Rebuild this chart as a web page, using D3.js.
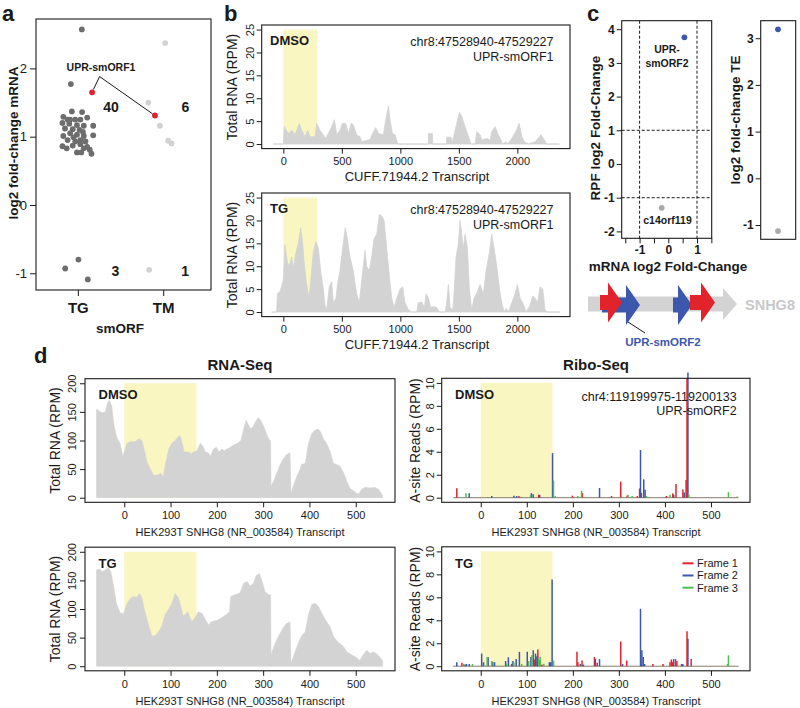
<!DOCTYPE html>
<html><head><meta charset="utf-8">
<script src="https://cdn.jsdelivr.net/npm/d3@7"></script>
<style>
body{margin:0;background:#fff;}
svg{display:block;font-family:"Liberation Sans",Arial,Helvetica,sans-serif;}
</style></head><body>
<svg id="chart" width="800" height="708"></svg>
<script>
// ================= DATA =================
// ---- panel a : smORF mRNA fold change (x = category index with jitter) ----
const aCategories = ["TG", "TM"];
const aYTicks = [-1, 0, 1, 2];
const aTgOther = [[1.047, 2.57], [0.918, 1.77]];
const aTgCluster = [[0.93,1.37],[1.05,1.36],[0.83,1.29],[0.88,1.25],[0.97,1.25],[1.11,1.28],[1.03,1.25],[0.82,1.20],[0.90,1.19],[0.99,1.17],[1.07,1.16],[1.18,1.16],[0.85,1.12],[0.94,1.11],[1.02,1.10],[1.06,1.07],[0.91,1.05],[0.83,1.01],[0.99,1.03],[1.07,1.01],[1.18,1.02],[0.95,0.99],[0.88,0.95],[1.03,0.95],[1.09,0.93],[0.82,0.86],[0.94,0.87],[1.03,0.89],[1.11,0.85],[1.14,0.81],[0.99,0.77],[1.04,0.77],[1.16,0.75],[0.87,0.83],[1.07,0.83],[0.97,0.93],[0.91,1.25]];
const aTgDown = [[0.852, -0.93], [1.007, -0.80], [1.117, -1.09]];
const aTmUp = [[2.023, 2.37], [1.825, 1.50], [1.961, 1.16], [2.058, 0.94], [2.098, 0.90]];
const aTmDown = [[1.836, -0.95]];
const aHighlight = [[1.167, 1.65], [1.903, 1.31]]; // UPR-smORF1 in TG and TM
const aCounts = [{x:1.389, y:1.435, t:"40"}, {x:2.259, y:1.435, t:"6"}, {x:1.439, y:-0.966, t:"3"}, {x:2.257, y:-0.966, t:"1"}];

// ---- panel b : CUFF.71944.2 coverage [position, RPM] ----
const bXTicks = [0, 500, 1000, 1500, 2000];
const bYTicks = [0, 5, 10, 15, 20, 25];
const bSmorf = [0, 287];
const bDmsoCoverage = [[-85,0],[0,0],[8,3.9],[25,3.0],[43,2.3],[71,3],[100,2],[137,4.5],[157,3],[185,1.6],[208,3],[228,1.6],[271,1.6],[285,4.5],[313,3],[342,2],[362,1.2],[413,3.8],[436,5.3],[456,2],[484,3],[504,4.5],[533,4.5],[556,2.3],[579,4.5],[598,4.2],[627,2],[655,1.6],[670,0.5],[741,1],[770,2.7],[789,3.6],[812,2.3],[855,2],[875,5.3],[898,8.3],[912,5.3],[932,2.3],[955,2],[978,0],[1238,0],[1240,2.3],[1274,2.3],[1277,0],[1394,0],[1397,1.5],[1434,1.5],[1439,0],[1462,2.3],[1482,4.5],[1505,6.9],[1525,6],[1553,3.8],[1576,2],[1605,0],[1639,0],[1653,2.7],[1682,2],[1696,0.9],[1739,1.2],[1767,0.9],[1781,2.7],[1810,3.8],[1833,2.3],[1861,0.9],[1872,0],[1901,0.5],[1918,0],[1952,1.2],[1986,2.7],[2015,4.5],[2038,1.6],[2061,0.5],[2095,0],[2152,0.5],[2175,1.2],[2203,2],[2223,1.2],[2252,0],[2360,0]];
const bTgCoverage = [[-100,0],[-57,0],[-51,4],[-28,4.5],[0,7],[14,14.7],[34,11],[51,10],[71,12],[85,9.5],[108,13],[128,15],[148,18.4],[165,15],[177,11],[194,7],[214,3.5],[228,5],[256,13],[279,15.4],[299,14],[319,9],[342,5],[356,1.5],[370,0.5],[393,5.5],[413,6.6],[427,2],[450,3],[465,6.5],[484,9],[507,14],[530,18.4],[547,16],[570,12],[598,9],[627,4],[650,2],[670,7],[698,13.5],[712,10],[735,9],[755,12],[775,16],[798,17],[821,21.3],[841,21],[861,20],[883,14],[906,8],[926,3],[946,1],[969,3],[997,5],[1020,5.5],[1040,2],[1069,0.5],[1097,0],[1140,0],[1154,2],[1183,2.2],[1206,1],[1220,4],[1240,3],[1260,1],[1283,1.2],[1311,1],[1334,0],[1382,0],[1396,2],[1411,6],[1425,1],[1448,0.5],[1459,4],[1476,12],[1496,15],[1510,20],[1525,17],[1539,14],[1553,17],[1573,14],[1590,5],[1610,0.5],[1630,3],[1659,4.5],[1681,6],[1710,4],[1733,9],[1761,13],[1781,17],[1801,14],[1824,10],[1847,5],[1867,2],[1887,0],[1904,0.8],[1924,0],[1952,2],[1981,4],[2001,6],[2024,3],[2046,2],[2075,0],[2109,1.5],[2132,3.5],[2152,3],[2172,2],[2194,5.5],[2217,5],[2237,0.5],[2252,0],[2365,0]];

// ---- panel c ----
const cXTicks = [-1.5, -1, -0.5, 0, 0.5, 1, 1.5];
const cYTicks = [-2, -1, 0, 1, 2, 3, 4];
const cGenes = ["UPR-smORF2", "c14orf119"];
const cMrnaFC = [0.56, -0.23];
const cRpfFC = [3.76, -1.30];
const cTeFC = [3.19, -1.13];
const cTeTicks = [-1, 0, 1, 2, 3];
// SNHG8 schematic (transcript units): ORFs in frame 1 (red) and frame 2 (blue)
const snhg8Length = 149;
const snhg8Orfs = [{frame:2, start:14, end:52}, {frame:1, start:12, end:34}, {frame:2, start:85, end:104}, {frame:1, start:102, end:127}];

// ---- panel d : SNHG8 RNA-seq coverage [position, RPM] ----
const dXTicks = [0, 100, 200, 300, 400, 500];
const dRnaTicks = [0, 50, 100, 150, 200];
const dRiboTicks = [0, 2, 4, 6, 8, 10];
const dSmorf = [0, 156];
const rnaDmso = [[-60,155],[-55,152],[-48,148],[-41,150],[-36,166],[-32,170],[-27,160],[-22,125],[-16,105],[-9,95],[-3,72],[0,80],[6,95],[13,98],[24,98],[31,103],[38,100],[43,85],[49,62],[55,52],[60,45],[63,39],[74,40],[78,43],[85,37],[88,55],[96,85],[103,95],[110,100],[117,107],[121,108],[127,90],[129,80],[139,80],[144,77],[150,80],[157,82],[164,95],[170,90],[175,80],[182,78],[186,72],[193,85],[199,88],[204,80],[211,85],[216,82],[222,85],[229,88],[236,92],[245,95],[252,100],[258,120],[263,135],[268,128],[273,120],[279,125],[285,135],[290,140],[295,135],[301,125],[308,110],[314,100],[316,100],[317,20],[322,28],[329,42],[337,58],[344,68],[350,75],[357,78],[358,78],[360,8],[365,20],[373,38],[380,50],[383,58],[391,60],[398,95],[405,112],[412,118],[419,120],[424,115],[430,103],[437,95],[445,80],[452,60],[459,58],[466,55],[473,45],[481,28],[488,16],[495,12],[502,8],[506,6],[513,15],[520,18],[531,17],[542,18],[549,15],[553,10],[558,4]];
const rnaTg = [[-60,168],[-53,170],[-48,165],[-41,168],[-34,172],[-29,165],[-23,140],[-17,110],[-12,100],[-9,93],[-1,92],[2,100],[6,110],[13,118],[20,122],[27,120],[33,127],[38,120],[43,100],[49,82],[55,65],[60,52],[67,54],[74,60],[81,70],[88,90],[96,100],[103,110],[110,127],[117,120],[122,105],[127,88],[132,90],[137,95],[142,85],[146,78],[153,85],[160,95],[168,92],[175,82],[182,72],[189,78],[200,80],[211,85],[220,90],[227,95],[230,122],[240,125],[250,128],[258,145],[265,148],[272,140],[279,145],[285,158],[292,162],[297,150],[304,130],[312,125],[316,125],[317,20],[326,40],[335,55],[344,68],[351,75],[358,77],[360,5],[369,25],[376,40],[383,53],[391,60],[398,90],[405,108],[412,110],[419,105],[427,92],[434,82],[445,68],[452,52],[462,42],[473,35],[481,25],[491,20],[502,15],[509,10],[516,20],[524,28],[531,22],[538,25],[545,22],[553,15],[558,10]];
// ---- panel d : Ribo-seq A-site reads [position, RPM] per frame ----
const riboRange = [-60, 560];
const riboDmsoF1 = [[-52,0.82],[83,0.15],[126,0.25],[199,0.18],[221,0.4],[284,0.15],[304,1.4],[318,0.2],[340,0.15],[345,0.8],[349,0.4],[403,0.15],[417,0.38],[424,1.2],[439,0.72],[446,1.55],[448,10.4]];
const riboDmsoF2 = [[-25,0.38],[24,0.15],[72,0.18],[78,0.15],[110,0.4],[114,0.3],[128,0.25],[156,3.88],[258,0.85],[347,4.15],[354,1.6],[357,0.7],[419,0.25],[442,0.45],[450,10.9]];
const riboDmsoF3 = [[-32,0.38],[108,0.2],[158,1.5],[162,0.15],[211,0.15],[219,0.6],[320,0.25],[329,0.15],[360,0.15],[411,0.25],[452,0.25],[538,0.48],[557,0.1]];
const riboTgF1 = [[-41,0.3],[67,0.2],[117,0.58],[124,1.45],[128,0.5],[133,0.15],[209,1.27],[211,0.35],[220,0.5],[247,0.8],[253,0.3],[304,2.15],[317,0.5],[348,0.2],[374,0.2],[396,0.2],[411,0.35],[414,0.58],[417,0.35],[423,0.62],[426,0.45],[436,0.2],[448,3.05],[457,0.62]];
const riboTgF2 = [[-52,0.35],[-34,0.15],[-31,0.2],[-25,0.2],[2,1.1],[6,0.35],[16,0.78],[26,0.35],[30,0.35],[54,0.45],[60,0.78],[70,0.45],[77,0.62],[84,1.25],[101,1.25],[109,0.8],[114,1.4],[119,1.1],[122,0.87],[149,0.35],[152,0.35],[155,7.55],[216,0.2],[223,0.15],[249,0.62],[258,0.62],[308,0.2],[347,5.0],[350,1.4],[353,0.8],[356,0.2],[419,0.62],[439,0.2],[450,2.4]];
const riboTgF3 = [[-37,0.2],[-18,0.2],[14,0.8],[24,0.45],[56,0.2],[72,0.3],[89,0.2],[104,0.45],[111,0.95],[126,0.62],[129,0.8],[137,0.22],[158,0.5],[536,0.2],[538,0.95]];
const frameNames = ["Frame 1", "Frame 2", "Frame 3"];

// ================= STYLE =================
const FONT = '"Liberation Sans", Arial, Helvetica, sans-serif';
const INK = "#1a1a1a";
const GRAYFILL = "#d3d3d3";
const YELLOW = "#f9f6c2";
const RED = "#e2232b", BLUE = "#3b58ad", GREEN = "#4fbd4f";
const DARKPT = "#6d6d6d", LIGHTPT = "#d2d2d2";
const frameColors = [RED, BLUE, GREEN];
const plain = d => String(d);

const svg = d3.select("#chart");

function txt(x, y, s, size, opt = {}) {
  const t = svg.append("text").attr("x", x).attr("y", y).text(s)
    .attr("font-size", size).attr("font-family", FONT)
    .attr("fill", opt.fill || INK)
    .attr("font-weight", opt.bold ? "bold" : "normal")
    .attr("text-anchor", opt.anchor || "start");
  if (opt.rotate) t.attr("transform", `rotate(-90,${x},${y})`).attr("dy", "0.35em");
  return t;
}
function frame(x0, y0, x1, y1) {
  svg.append("rect").attr("x", x0).attr("y", y0).attr("width", x1 - x0).attr("height", y1 - y0)
    .attr("fill", "none").attr("stroke", INK).attr("stroke-width", 1.1);
}
function styleAxis(a, size, bold) {
  a.select(".domain").remove();
  a.selectAll(".tick line").attr("stroke", INK).attr("stroke-width", 1);
  a.selectAll(".tick text").attr("font-size", size).attr("font-family", FONT)
    .attr("fill", INK).attr("font-weight", bold ? "bold" : "normal");
  return a;
}
function rotateYLabels(a, off) {
  a.selectAll(".tick text").attr("x", null).attr("dy", "0.35em").attr("text-anchor", "middle")
    .attr("transform", `translate(${-off},0) rotate(-90)`);
}

// ================= PANEL LETTERS =================
txt(2, 21, "a", 22, {bold: true});
txt(224, 21, "b", 22, {bold: true});
txt(587, 21, "c", 22, {bold: true});
txt(34, 363, "d", 22, {bold: true});

// ================= PANEL A =================
{
  const x = d3.scaleLinear().domain([0.51, 2.56]).range([36, 211]);
  const y = d3.scaleLinear().domain([-1.245, 2.723]).range([290, 19]);
  const g = svg.append("g");
  const dots = (arr, col) => g.selectAll(null).data(arr).enter().append("circle")
    .attr("cx", d => x(d[0])).attr("cy", d => y(d[1])).attr("r", 2.9).attr("fill", col);
  dots(aTgOther, DARKPT); dots(aTgCluster, DARKPT); dots(aTgDown, DARKPT);
  dots(aTmUp, LIGHTPT); dots(aTmDown, LIGHTPT);
  const jx = x(1.255), jy = y(1.88);
  aHighlight.forEach(d => {
    const px = x(d[0]), py = y(d[1]);
    const dx = px - jx, dy = py - jy, L = Math.hypot(dx, dy);
    g.append("line").attr("x1", jx).attr("y1", jy).attr("x2", px - dx / L * 3).attr("y2", py - dy / L * 3)
      .attr("stroke", INK).attr("stroke-width", 1);
  });
  dots(aHighlight, RED);
  txt(x(1.272), y(2.01) + 3.8, "UPR-smORF1", 10.5, {bold: true, anchor: "middle"});
  aCounts.forEach(c => txt(x(c.x), y(c.y) + 5, c.t, 14, {bold: true, anchor: "middle"}));
  frame(36, 19, 211, 290);
  styleAxis(svg.append("g").attr("transform", "translate(36,0)")
    .call(d3.axisLeft(y).tickValues(aYTicks).tickSize(6).tickPadding(3).tickFormat(plain)), 13, false);
  styleAxis(svg.append("g").attr("transform", "translate(0,290)")
    .call(d3.axisBottom(x).tickValues([1, 2]).tickSize(6).tickPadding(6).tickFormat(d => aCategories[d - 1])), 15, true);
  txt(13, 143, "log2 fold-change mRNA", 13.5, {bold: true, anchor: "middle", rotate: true});
  txt(120, 333, "smORF", 13.5, {bold: true, anchor: "middle"});
}

// ================= PANEL B =================
{
  const x = d3.scaleLinear().domain([-185, 2450]).range([261.7, 570]);
  const panels = [{lab: "DMSO", data: bDmsoCoverage, off: 0}, {lab: "TG", data: bTgCoverage, off: 168}];
  panels.forEach(p => {
    const y = d3.scaleLinear().domain([-1, 26]).range([148.6 + p.off, 25 + p.off]);
    svg.append("rect").attr("x", x(bSmorf[0])).attr("width", x(bSmorf[1]) - x(bSmorf[0]))
      .attr("y", y(25)).attr("height", y(0) - y(25)).attr("fill", YELLOW);
    svg.append("path").datum(p.data)
      .attr("d", d3.area().x(d => x(d[0])).y0(y(0)).y1(d => y(d[1])))
      .attr("fill", GRAYFILL).attr("stroke", GRAYFILL).attr("stroke-width", 0.8);
    frame(261.7, 25 + p.off, 570, 148.6 + p.off);
    const ya = styleAxis(svg.append("g").attr("transform", "translate(261.7,0)")
      .call(d3.axisLeft(y).tickValues(bYTicks).tickSize(5).tickFormat(plain)), 11, false);
    rotateYLabels(ya, 11.5);
    styleAxis(svg.append("g").attr("transform", `translate(0,${148.6 + p.off})`)
      .call(d3.axisBottom(x).tickValues(bXTicks).tickSize(5).tickPadding(4).tickFormat(plain)), 11, false);
    txt(417, 181 + p.off, "CUFF.71944.2 Transcript", 13, {anchor: "middle"});
    txt(232.5, 87 + p.off, "Total RNA (RPM)", 14, {anchor: "middle", rotate: true});
    txt(270, 44.5 + p.off, p.lab, 13, {bold: true});
    txt(553.5, 46 + p.off, "chr8:47528940-47529227", 12.5, {anchor: "end"});
    txt(553.5, 60.5 + p.off, "UPR-smORF1", 12.5, {anchor: "end"});
  });
}

// ================= PANEL C =================
{
  const x = d3.scaleLinear().domain([-1.624, 1.512]).range([621.7, 711.7]);
  const y = d3.scaleLinear().domain([-2.205, 4.252]).range([238.3, 20.7]);
  [-1, 1].forEach(v => {
    svg.append("line").attr("x1", x(v)).attr("x2", x(v)).attr("y1", 20.7).attr("y2", 238.3)
      .attr("stroke", INK).attr("stroke-width", 1).attr("stroke-dasharray", "3,2");
    svg.append("line").attr("y1", y(v)).attr("y2", y(v)).attr("x1", 621.7).attr("x2", 711.7)
      .attr("stroke", INK).attr("stroke-width", 1).attr("stroke-dasharray", "3,2");
  });
  const cols = [BLUE, "#a9a9a9"];
  cGenes.forEach((gname, i) => {
    svg.append("circle").attr("cx", x(cMrnaFC[i])).attr("cy", y(cRpfFC[i])).attr("r", 2.9).attr("fill", cols[i]);
  });
  txt(667, 53, "UPR-", 10.5, {bold: true, anchor: "middle"});
  txt(667, 67, "smORF2", 10.5, {bold: true, anchor: "middle"});
  txt(667.5, 224, "c14orf119", 10.5, {bold: true, anchor: "middle"});
  frame(621.7, 20.7, 711.7, 238.3);
  styleAxis(svg.append("g").attr("transform", "translate(621.7,0)")
    .call(d3.axisLeft(y).tickValues(cYTicks).tickSize(5).tickPadding(2).tickFormat(plain)), 12, true);
  styleAxis(svg.append("g").attr("transform", "translate(0,238.3)")
    .call(d3.axisBottom(x).tickValues(cXTicks).tickSize(5).tickPadding(2)
      .tickFormat(d => Number.isInteger(d) ? String(d) : "")), 12, true);
  txt(595, 128, "RPF log2 Fold-Change", 13.5, {bold: true, anchor: "middle", rotate: true});
  txt(668, 271, "mRNA log2 Fold-Change", 13.5, {bold: true, anchor: "middle"});

  // TE strip
  const ty = d3.scaleLinear().domain([-1.306, 3.375]).range([239.3, 20.7]);
  cGenes.forEach((gname, i) => {
    svg.append("circle").attr("cx", 778).attr("cy", ty(cTeFC[i])).attr("r", 2.9).attr("fill", cols[i]);
  });
  frame(760.7, 20.7, 795.7, 239.3);
  styleAxis(svg.append("g").attr("transform", "translate(760.7,0)")
    .call(d3.axisLeft(ty).tickValues(cTeTicks).tickSize(5).tickPadding(2).tickFormat(plain)), 12, true);
  txt(735, 120, "log2 fold-change TE", 13.5, {bold: true, anchor: "middle", rotate: true});

  // SNHG8 schematic
  const gx = d3.scaleLinear().domain([0, snhg8Length]).range([588, 737]);
  const head = 14;
  const arrow = (s, e, cy, bh, hh) => {
    const b = gx(e) - head;
    return `M${gx(s)},${cy - bh}L${b},${cy - bh}L${b},${cy - hh}L${gx(e)},${cy}L${b},${cy + hh}L${b},${cy + bh}L${gx(s)},${cy + bh}Z`;
  };
  svg.append("path").attr("d", arrow(0, snhg8Length, 304, 7.5, 16)).attr("fill", GRAYFILL);
  snhg8Orfs.forEach(o => {
    const cy = o.frame === 1 ? 302.5 : 305;
    svg.append("path").attr("d", arrow(o.start, o.end, cy, 7.5, 20))
      .attr("fill", o.frame === 1 ? RED : BLUE);
  });
  svg.append("line").attr("x1", 628).attr("y1", 322).attr("x2", 645).attr("y2", 333)
    .attr("stroke", INK).attr("stroke-width", 1);
  txt(663, 346, "UPR-smORF2", 11.5, {bold: true, anchor: "middle", fill: BLUE});
  txt(745, 309.5, "SNHG8", 14.5, {bold: true, fill: "#c8c8c8"});
}

// ================= PANEL D =================
{
  const OFF = 168.5;
  const rx = d3.scaleLinear().domain([-84.8, 584.8]).range([85, 395]);
  const bx = d3.scaleLinear().domain([-84.8, 584.8]).range([441.7, 750]);
  txt(240, 370, "RNA-Seq", 15, {bold: true, anchor: "middle"});
  txt(596, 370, "Ribo-Seq", 15, {bold: true, anchor: "middle"});
  const rows = [
    {lab: "DMSO", rna: rnaDmso, ribo: [riboDmsoF1, riboDmsoF2, riboDmsoF3], off: 0},
    {lab: "TG", rna: rnaTg, ribo: [riboTgF1, riboTgF2, riboTgF3], off: OFF}
  ];
  rows.forEach((r, ri) => {
    const y = d3.scaleLinear().domain([-8, 208]).range([502.3 + r.off, 378.7 + r.off]);
    svg.append("rect").attr("x", rx(dSmorf[0])).attr("width", rx(dSmorf[1]) - rx(dSmorf[0]))
      .attr("y", y(200)).attr("height", y(0) - y(200)).attr("fill", YELLOW);
    svg.append("path").datum(r.rna)
      .attr("d", d3.area().x(d => rx(d[0])).y0(y(0)).y1(d => y(d[1])))
      .attr("fill", GRAYFILL).attr("stroke", GRAYFILL).attr("stroke-width", 0.6);
    frame(85, 378.7 + r.off, 395, 502.3 + r.off);
    const ya = styleAxis(svg.append("g").attr("transform", "translate(85,0)")
      .call(d3.axisLeft(y).tickValues(dRnaTicks).tickSize(5).tickFormat(plain)), 11, false);
    rotateYLabels(ya, 12.5);
    styleAxis(svg.append("g").attr("transform", `translate(0,${502.3 + r.off})`)
      .call(d3.axisBottom(rx).tickValues(dXTicks).tickSize(5).tickPadding(4).tickFormat(plain)), 11, false);
    txt(240, 536 + r.off, "HEK293T SNHG8 (NR_003584) Transcript", 11, {anchor: "middle"});
    txt(55.5, 440.5 + r.off, "Total RNA (RPM)", 14, {anchor: "middle", rotate: true});
    txt(98.5, 399.3 + r.off, r.lab, 13, {bold: true});

    const yb = d3.scaleLinear().domain([-0.4, 10.4]).range([502.3 + r.off, 378.3 + r.off]);
    svg.append("rect").attr("x", bx(dSmorf[0])).attr("width", bx(dSmorf[1]) - bx(dSmorf[0]))
      .attr("y", yb(10)).attr("height", yb(0) - yb(10)).attr("fill", YELLOW);
    svg.append("line").attr("x1", bx(riboRange[0])).attr("x2", bx(riboRange[1]))
      .attr("y1", yb(0)).attr("y2", yb(0)).attr("stroke", "#8a7a6a").attr("stroke-width", 1);
    r.ribo.forEach((arr, fi) => {
      svg.selectAll(null).data(arr).enter().append("line")
        .attr("x1", d => bx(d[0])).attr("x2", d => bx(d[0]))
        .attr("y1", yb(0)).attr("y2", d => yb(d[1]))
        .attr("stroke", frameColors[fi]).attr("stroke-width", 1.5);
    });
    frame(441.7, 378.3 + r.off, 750, 502.3 + r.off);
    const yba = styleAxis(svg.append("g").attr("transform", "translate(441.7,0)")
      .call(d3.axisLeft(yb).tickValues(dRiboTicks).tickSize(5).tickFormat(plain)), 11, false);
    rotateYLabels(yba, 12);
    styleAxis(svg.append("g").attr("transform", `translate(0,${502.3 + r.off})`)
      .call(d3.axisBottom(bx).tickValues(dXTicks).tickSize(5).tickPadding(4).tickFormat(plain)), 11, false);
    txt(596, 536 + r.off, "HEK293T SNHG8 (NR_003584) Transcript", 11, {anchor: "middle"});
    txt(415, 440.5 + r.off, "A-site Reads (RPM)", 14, {anchor: "middle", rotate: true});
    txt(455, 399.3 + r.off, r.lab, 13, {bold: true});
    if (ri === 0) {
      txt(736.7, 400.5, "chr4:119199975-119200133", 12.5, {anchor: "end"});
      txt(736.7, 414.5, "UPR-smORF2", 12.5, {anchor: "end"});
    } else {
      frameNames.forEach((f, i) => {
        const ly = 563.3 + i * 12.2;
        svg.append("line").attr("x1", 682.5).attr("x2", 693.5).attr("y1", ly).attr("y2", ly)
          .attr("stroke", frameColors[i]).attr("stroke-width", 2);
        txt(697, ly + 3.9, f, 11);
      });
    }
  });
}
</script>
</body></html>
